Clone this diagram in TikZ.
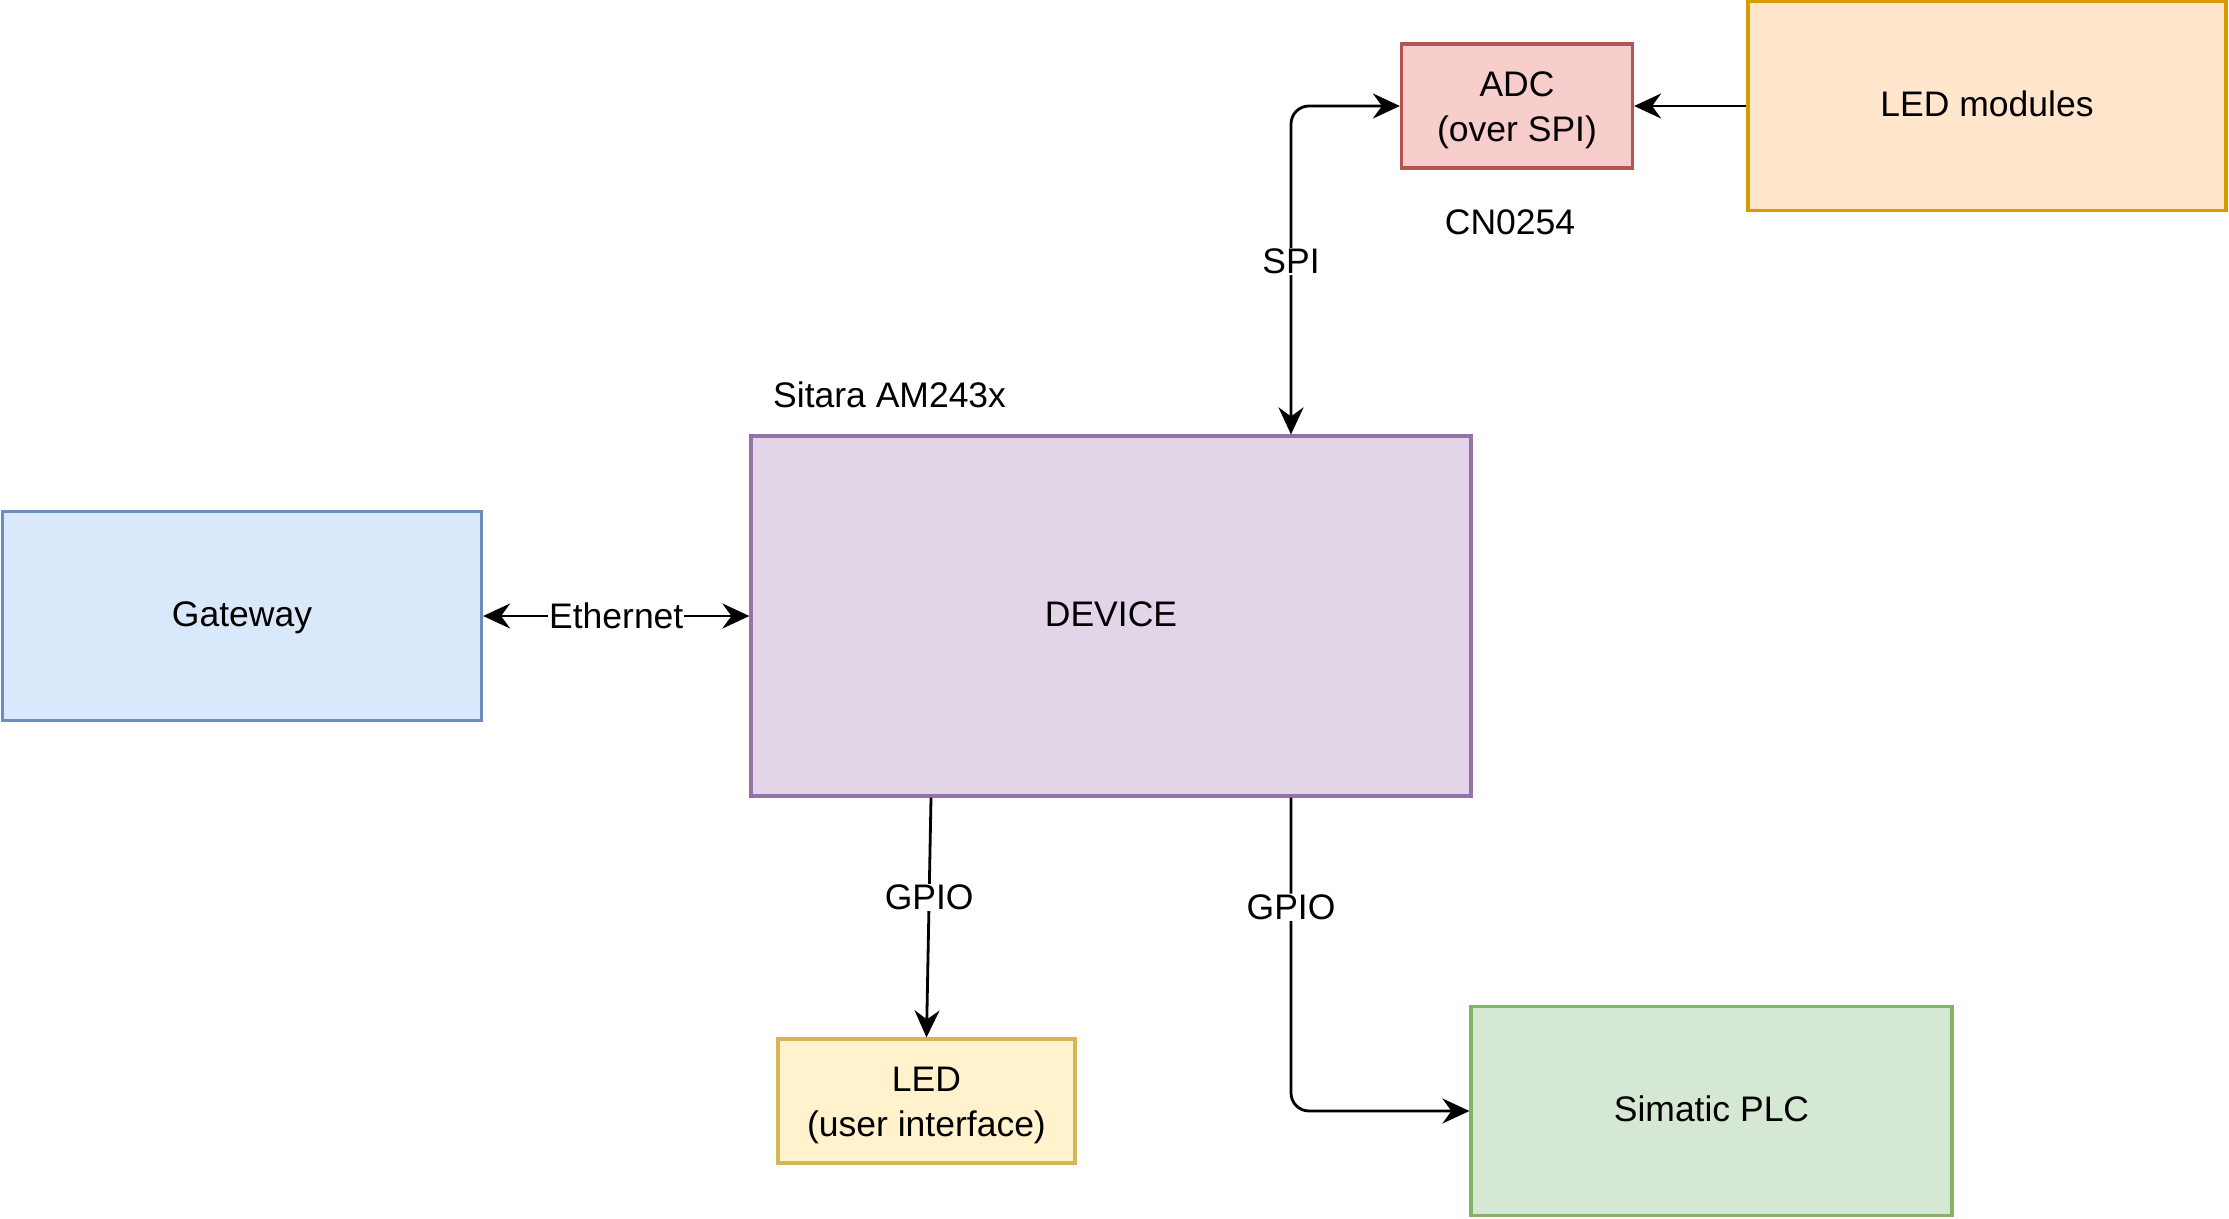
\documentclass[tikz,border=0pt]{standalone}
\usepackage{fontspec}
\setmainfont{Liberation Sans}
\usetikzlibrary{arrows.meta,calc}
\definecolor{bluef}{HTML}{DAE8FC}\definecolor{blued}{HTML}{6C8EBF}
\definecolor{purf}{HTML}{E1D5E7}\definecolor{purd}{HTML}{9673A6}
\definecolor{redf}{HTML}{F8CECC}\definecolor{redd}{HTML}{B85450}
\definecolor{oraf}{HTML}{FFE6CC}\definecolor{orad}{HTML}{D79B00}
\definecolor{yelf}{HTML}{FFF2CC}\definecolor{yeld}{HTML}{D6B656}
\definecolor{grnf}{HTML}{D5E8D4}\definecolor{grnd}{HTML}{82B366}
\newcommand{\topone}{\rule{0pt}{\dimexpr\ht\strutbox+3pt\relax}}
\newcommand{\toptwo}{\rule{0pt}{\dimexpr\ht\strutbox+8pt\relax}}
\tikzset{
  tip/.tip={Stealth[length=27pt,width=25pt,inset=9pt]},
  box/.style={draw, line width=3.2pt, inner sep=0pt, align=center,
    font=\fontsize{35.5}{45}\selectfont},
  txt/.style={inner sep=0pt, font=\fontsize{35.5}{44}\selectfont},
  conn/.style={line width=2.8pt, -tip},
  biconn/.style={line width=2.8pt, tip-tip},
  lbl/.style={fill=white, inner sep=1pt, font=\fontsize{35.5}{44}\selectfont},
}
\begin{document}
\begin{tikzpicture}[x=1pt,y=-1pt]
\useasboundingbox (0,0) rectangle (2229,1218);
\node[box, fill=bluef, draw=blued, minimum width=479pt, minimum height=209pt] (gw) at (242,616) {\topone\strut Gateway};
\node[box, fill=purf, draw=purd, minimum width=720pt, minimum height=360pt] (dev) at (1111,616) {\topone\strut DEVICE};
\node[box, fill=redf, draw=redd, minimum width=231pt, minimum height=124pt] (adc) at (1517,106) {\toptwo\strut ADC\\\strut(over SPI)};
\node[box, fill=oraf, draw=orad, minimum width=478pt, minimum height=209pt] (ledm) at (1987,106) {\topone\strut LED modules};
\node[box, fill=yelf, draw=yeld, minimum width=297pt, minimum height=124pt] (led) at (926.5,1101) {\toptwo\strut LED\\\strut(user interface)};
\node[box, fill=grnf, draw=grnd, minimum width=481pt, minimum height=209pt] (plc) at (1711.5,1111) {\topone\strut Simatic PLC};
\node[txt, anchor=west] (sitara) at (773,395) {Sitara AM243x};
\node[txt] (cn) at (1510,222) {CN0254};
\coordinate (spib) at ($(dev.north)+(180,0)$);
\coordinate (g1s) at ($(dev.south)+(-180,0)$);
\coordinate (g2s) at ($(dev.south)+(180,0)$);
\draw[biconn] (gw.east) -- node[lbl] {Ethernet} (dev.west);
\draw[biconn, rounded corners=18pt] (adc.west) -| node[lbl, pos=0.737] {SPI} (spib);
\draw[conn] (ledm.west) -- (adc.east);
\draw[conn] (g1s) -- node[lbl, pos=0.415] {GPIO} (led.north);
\draw[conn, rounded corners=18pt] (g2s) |- node[lbl, pos=0.175] {GPIO} (plc.west);
\end{tikzpicture}
\end{document}
